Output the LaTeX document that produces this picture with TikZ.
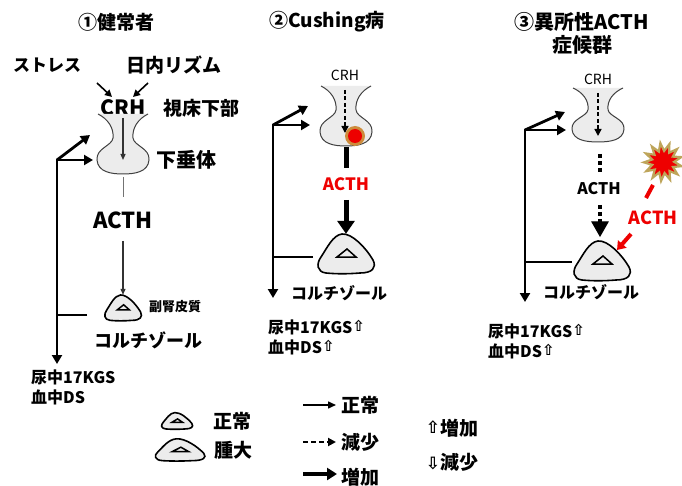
\documentclass[tikz,border=0pt]{standalone}
\usepackage{fontspec}
\setmainfont{Noto Sans CJK JP}
\newfontfamily\symfont{DejaVu Sans}
\usetikzlibrary{arrows.meta,shapes.geometric}

\definecolor{hred}{RGB}{238,0,0}
\definecolor{burstline}{RGB}{190,165,90}
\definecolor{halo}{RGB}{205,140,60}
\definecolor{organfill}{RGB}{236,236,236}

\newcommand\uparr[1]{\raisebox{1.5pt}{\symfont\fontsize{#1}{#1}\selectfont ⇧}}
\newcommand\downarr[1]{\raisebox{0pt}{\symfont\fontsize{#1}{#1}\selectfont ⇩}}

\tikzset{
  txt/.style={font=\bfseries\fontsize{#1}{#1}\selectfont, inner sep=0pt},
  thintxt/.style={font=\fontsize{#1}{#1}\selectfont, inner sep=0pt},
  box/.style={inner sep=0pt, draw=none},
  thinarrow/.style={line width=1.2pt, draw=black!80, -{Triangle[length=6pt,width=5pt]}},
  inarrow/.style={line width=1.6pt, -{Triangle[length=7pt,width=7pt]}},
  dasharrow/.style={line width=1.4pt, dash pattern=on 4pt off 2.5pt, -{Triangle[length=7pt,width=7pt]}},
  fbline/.style={line width=2.8pt, line join=miter},
  fbtip/.style={-{Triangle[length=9pt,width=10pt]}},
  boldarrow/.style={line width=5pt, -{Triangle[length=13pt,width=17pt]}},
  dotline/.style={line width=4pt, dash pattern=on 4pt off 3pt},
  % hypothalamus-pituitary funnel, origin at the top centre
  pics/pit/.style={code={
    \fill[organfill] (-25,0) .. controls (-15,5) and (-9,14) .. (-10,24)
      .. controls (-11,32) and (-27,34) .. (-26,46)
      .. controls (-25,58) and (-12,60) .. (0,60)
      .. controls (12,60) and (25,58) .. (26,46)
      .. controls (27,34) and (11,32) .. (10,24)
      .. controls (9,14) and (15,5) .. (25,0) -- cycle;
    \draw[line width=1pt, black!75] (-25,0) .. controls (-15,5) and (-9,14) .. (-10,24)
      .. controls (-11,32) and (-27,34) .. (-26,46)
      .. controls (-25,58) and (-12,60) .. (0,60)
      .. controls (12,60) and (25,58) .. (26,46)
      .. controls (27,34) and (11,32) .. (10,24)
      .. controls (9,14) and (15,5) .. (25,0);
  }},
  % adrenal gland: rounded triangle with a small inner triangle
  pics/adr/.style={code={
    \draw[line width=1.6pt, fill=organfill] (-4,-20) .. controls (6,-21) and (20,-6) .. (27,6)
      .. controls (31,14) and (26,19) .. (14,19)
      .. controls (2,20) and (-10,20) .. (-20,19)
      .. controls (-29,18) and (-30,10) .. (-25,3)
      .. controls (-19,-6) and (-13,-19) .. (-4,-20) -- cycle;
    \draw[line width=1.5pt, line join=miter] (-9,3) -- (1,-5) -- (10,3) -- cycle;
  }}
}

\begin{document}
\begin{tikzpicture}[x=1pt,y=-1pt]
\useasboundingbox (0,0) rectangle (682,486);
\fill[white] (0,0) rectangle (682,486);

% ---------------- panel 1: healthy ----------------
\node[txt=19] (t1) at (116,22) {①健常者};
\node[txt=17] (stress) at (47,65) {ストレス};
\node[txt=19] (rhythm) at (174,65) {日内リズム};
\node[txt=21] (crh1) at (123,108) {CRH};
\node[txt=19] (hypo) at (201,108) {視床下部};
\coordinate (s1a) at (97,83);  \coordinate (s1b) at (112,97);
\coordinate (r1a) at (148,83); \coordinate (r1b) at (133,97);
\draw[inarrow] (s1a) -- (s1b);
\draw[inarrow] (r1a) -- (r1b);
\pic at (123,114) {pit};
\node[box, minimum width=52, minimum height=60] (pit1) at (123,144) {};
\draw[thinarrow] (123,118) -- (123,160);
\node[txt=20] (pitlab) at (186,160) {下垂体};
\node[txt=22] (acth1) at (123,220) {ACTH};
\coordinate (g1a) at (123,177);
\coordinate (g1b) at (123,197);
\draw[line width=0.9pt, black!55] (g1a) -- (g1b);
\coordinate (a1top) at (123,241);
\pic[scale=0.65] at (123,308) {adr};
\node[box, minimum width=36, minimum height=26] (ad1) at (123,308) {};
\draw[thinarrow] (a1top) -- (ad1.north);
\node[txt=13] (cortex) at (175,307) {副腎皮質};
\node[txt=18] (cort1) at (148,340) {コルチゾール};
\coordinate (f1c) at (57,160);
\coordinate (f1h) at (93,160);
\coordinate (f1d) at (90,135);
\coordinate (f1b) at (57,364);
\coordinate (f1l) at (87,315);
\coordinate (f1m) at (57,315);
\draw[fbline, fbtip] (f1m) -- (f1c) -- (f1h);
\draw[fbline, fbtip] (f1c) -- (f1d);
\draw[fbline, fbtip] (57,313) -- (f1b);
\draw[fbline] (f1l) -- (f1m);
\node[txt=16, anchor=west] (u1) at (31,377) {尿中17KGS};
\node[txt=16, anchor=west] (b1) at (31,397) {血中DS};

% ---------------- panel 2: Cushing's disease ----------------
\node[txt=19] (t2) at (327,22) {②Cushing病};
\node[thintxt=14] (crh2) at (345,75) {CRH};
\pic at (346,86) {pit};
\node[box, minimum width=52, minimum height=60] (pit2) at (346,116) {};
\draw[dasharrow] (345,90) -- (345,133);
\fill[halo] (355,136) circle (10);
\fill[hred] (355,136) circle (7);
\node[txt=17, text=hred] (acth2) at (346,184) {ACTH};
\coordinate (p2a) at (346,147);
\coordinate (p2b) at (346,168);
\draw[line width=5pt] (p2a) -- (p2b);
\pic at (346,254) {adr};
\node[box, minimum width=58, minimum height=40] (ad2) at (346,254) {};
\coordinate (a2top) at (346,200);
\draw[boldarrow] (a2top) -- (ad2.north);
\node[txt=16] (cort2) at (339,293) {コルチゾール};
\coordinate (f2c) at (273,125);
\coordinate (f2h) at (310,125);
\coordinate (f2d) at (308,106);
\coordinate (f2b) at (273,298);
\coordinate (f2l) at (313,257);
\coordinate (f2m) at (273,257);
\draw[fbline, fbtip] (f2m) -- (f2c) -- (f2h);
\draw[fbline, fbtip] (f2c) -- (f2d);
\draw[fbline, fbtip] (273,255) -- (f2b);
\draw[fbline] (f2l) -- (f2m);
\node[txt=16, anchor=west] (u2) at (268,327) {尿中17KGS\uparr{15}};
\node[txt=16, anchor=west] (b2) at (268,347) {血中DS\uparr{15}};

% ---------------- panel 3: ectopic ACTH syndrome ----------------
\node[txt=20, align=center] (t3) at (582,33) {③異所性ACTH\\[3pt]症候群};
\node[thintxt=14] (crh3) at (598,79) {CRH};
\pic[yscale=0.9] at (598,88) {pit};
\node[box, minimum width=52, minimum height=54] (pit3) at (598,115) {};
\draw[dasharrow] (598,93) -- (598,136);
\node[txt=16] (acth3) at (599,189) {ACTH};
\coordinate (d3a) at (600,154);
\coordinate (d3b) at (600,172);
\draw[dotline] (d3a) -- (d3b);
\pic at (602,261) {adr};
\node[box, minimum width=58, minimum height=40] (ad3) at (602,261) {};
\coordinate (d3c) at (600,205);
\coordinate (d3d) at (600,223);
\draw[dotline] (d3c) -- (d3d);
\draw[line width=1pt, fill=black] (592,222) -- (608,222) -- (600,236) -- cycle;
\node[star, star points=13, star point ratio=1.7, minimum size=38pt, inner sep=0pt,
      fill=hred, draw=burstline, line width=2.2pt, rotate=8] (burst) at (663,162) {};
\coordinate (r3a) at (653,185);
\coordinate (r3b) at (646,198);
\draw[hred, line width=4pt] (r3a) -- (r3b);
\node[txt=18, text=hred] (acth3r) at (653,218) {ACTH};
\coordinate (r3c) at (631,234);
\coordinate (r3d) at (617,250);
\draw[hred, line width=4pt, -{Triangle[length=8pt,width=11pt]}] (r3c) -- (r3d);
\node[txt=16] (cort3) at (591,292) {コルチゾール};
\coordinate (f3c) at (525,130);
\coordinate (f3h) at (566,130);
\coordinate (f3d) at (565,112);
\coordinate (f3b) at (525,302);
\coordinate (f3l) at (572,262);
\coordinate (f3m) at (525,262);
\draw[fbline, fbtip] (f3m) -- (f3c) -- (f3h);
\draw[fbline, fbtip] (f3c) -- (f3d);
\draw[fbline, fbtip] (525,260) -- (f3b);
\draw[fbline] (f3l) -- (f3m);
\node[txt=16, anchor=west] (u3) at (488,331) {尿中17KGS\uparr{15}};
\node[txt=16, anchor=west] (b3) at (488,351) {血中DS\uparr{15}};

% ---------------- legend ----------------
\pic[xscale=0.55, yscale=0.42] at (177,421) {adr};
\node[box, minimum width=32, minimum height=17] (lgsmall) at (177,421) {};
\node[txt=19] (lgnorm) at (232,421) {正常};
\pic[xscale=0.88, yscale=0.56] at (180,450) {adr};
\node[box, minimum width=50, minimum height=22] (lgbig) at (180,450) {};
\node[txt=19] (lgswell) at (233,450) {腫大};

\node[txt=19] (ln1) at (360,405) {正常};
\node[txt=19] (ln2) at (360,442) {減少};
\node[txt=19] (ln3) at (360,477) {増加};
\coordinate (la1) at (303,405);  \coordinate (lb1) at (336,405);
\coordinate (la2) at (303,442);  \coordinate (lb2) at (336,442);
\coordinate (la3) at (303,474);  \coordinate (lb3) at (337,474);
\draw[line width=1.5pt, -{Triangle[length=8pt,width=7pt]}] (la1) -- (lb1);
\draw[line width=2.2pt, dash pattern=on 5pt off 3pt, -{Triangle[length=8pt,width=8pt]}] (la2) -- (lb2);
\draw[line width=4.5pt, -{Triangle[length=10pt,width=12pt]}] (la3) -- (lb3);

\node[txt=19] (lup) at (452,428) {\uparr{17}増加};
\node[txt=19] (ldown) at (452,462) {\downarr{17}減少};
\end{tikzpicture}
\end{document}
